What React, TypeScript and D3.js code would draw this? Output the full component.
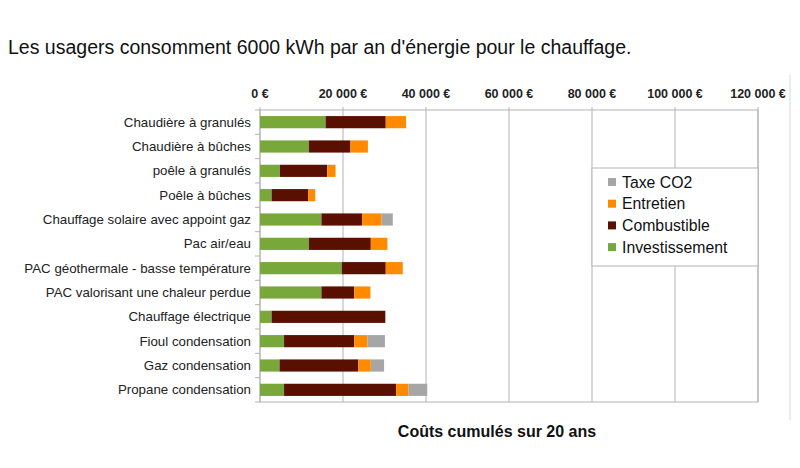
import * as d3 from 'd3';

const categories = [
  'Chaudière à granulés',
  'Chaudière à bûches',
  'poêle à granulés',
  'Poêle à bûches',
  'Chauffage solaire avec appoint gaz',
  'Pac air/eau',
  'PAC géothermale - basse température',
  'PAC valorisant une chaleur perdue',
  'Chauffage électrique',
  'Fioul condensation',
  'Gaz condensation',
  'Propane condensation',
];

const investissement = [15800, 11800, 4800, 2800, 14800, 11800, 19700, 14800, 2800, 5800, 4700, 5800];
const combustible = [14500, 10000, 11400, 8800, 9800, 14900, 10600, 7900, 27400, 16900, 19000, 27000];
const entretien = [4900, 4200, 2000, 1700, 4700, 4000, 4100, 3900, 0, 3200, 3000, 3000];
const taxeCO2 = [0, 0, 0, 0, 2700, 0, 0, 0, 0, 4200, 3200, 4500];

const xTicks = [0, 20000, 40000, 60000, 80000, 100000, 120000];

const seriesKeys = ['Investissement', 'Combustible', 'Entretien', 'Taxe CO2'];
const seriesColors: Record<string, string> = {
  Investissement: '#78a83a',
  Combustible: '#5a1000',
  Entretien: '#ff8a00',
  'Taxe CO2': '#a6a6a6',
};

const rows = categories.map((name, i) => ({
  name,
  Investissement: investissement[i],
  Combustible: combustible[i],
  Entretien: entretien[i],
  'Taxe CO2': taxeCO2[i],
}));

const W = 800;
const H = 468;
const plot = { left: 260, right: 758, top: 110, bottom: 402 };
const sans = '"Liberation Sans", Arial, sans-serif';

const fmt = (v: number) => d3.format(',')(v).replace(/,/g, ' ') + ' €';

export default function App() {
  const x = d3.scaleLinear().domain([0, 120000]).range([plot.left, plot.right]);
  const y = d3
    .scaleBand<string>()
    .domain(categories)
    .range([plot.top, plot.bottom])
    .paddingInner(0.5)
    .paddingOuter(0.25);

  const stacked = d3.stack<any>().keys(seriesKeys)(rows);

  // legend sits over the grid, top-right
  const legend = { x: 592, y: 168, w: plot.right - 592, h: 98 };
  const legendOrder = ['Taxe CO2', 'Entretien', 'Combustible', 'Investissement'];

  return (
    <svg
      width={W}
      height={H}
      style={{ position: 'absolute', left: 0, top: 0, background: '#fff' }}
      fontFamily={sans}
    >
      <text x={8} y={54} fontSize={19.5} fill="#111">
        Les usagers consomment 6000 kWh par an d'énergie pour le chauffage.
      </text>

      {/* outer frame edge */}
      <line x1={790} x2={790} y1={75} y2={420} stroke="#d9d9d9" />

      {/* grid */}
      {xTicks.map((t) => (
        <line key={t} x1={x(t)} x2={x(t)} y1={plot.top - 3} y2={plot.bottom} stroke="#b3b3b3" />
      ))}
      <rect
        x={plot.left}
        y={plot.top}
        width={plot.right - plot.left}
        height={plot.bottom - plot.top}
        fill="none"
        stroke="#b3b3b3"
      />
      {/* category ticks */}
      {d3.range(categories.length + 1).map((i) => (
        <line
          key={i}
          x1={plot.left - 5}
          x2={plot.left}
          y1={plot.top + i * (plot.bottom - plot.top) / categories.length}
          y2={plot.top + i * (plot.bottom - plot.top) / categories.length}
          stroke="#b3b3b3"
        />
      ))}

      {/* x tick labels */}
      {xTicks.map((t) => (
        <text key={t} x={x(t)} y={98} textAnchor="middle" fontSize={12.5} fontWeight={700} fill="#222">
          {fmt(t)}
        </text>
      ))}

      {/* bars */}
      {stacked.map((s) => (
        <g key={s.key} fill={seriesColors[s.key]}>
          {s.map((d, i) =>
            d[1] - d[0] > 0 ? (
              <rect
                key={i}
                x={x(d[0])}
                y={y(categories[i])!}
                width={x(d[1]) - x(d[0])}
                height={y.bandwidth()}
              />
            ) : null
          )}
        </g>
      ))}

      {/* category labels */}
      {categories.map((c) => (
        <text
          key={c}
          x={plot.left - 9}
          y={y(c)! + y.bandwidth() / 2}
          dy="0.35em"
          textAnchor="end"
          fontSize={13.3}
          fill="#222"
        >
          {c}
        </text>
      ))}

      {/* legend */}
      <rect x={legend.x} y={legend.y} width={legend.w} height={legend.h} fill="#fff" stroke="#b3b3b3" />
      {legendOrder.map((k, i) => (
        <g key={k} transform={`translate(${legend.x + 16},${legend.y + 14 + i * 21.7})`}>
          <rect x={0} y={-4} width={8} height={8} fill={seriesColors[k]} />
          <text x={14} y={0} dy="0.35em" fontSize={15.8} fill="#111">
            {k}
          </text>
        </g>
      ))}

      <text x={497} y={437} textAnchor="middle" fontSize={16} fontWeight={700} fill="#111">
        Coûts cumulés sur 20 ans
      </text>
    </svg>
  );
}
